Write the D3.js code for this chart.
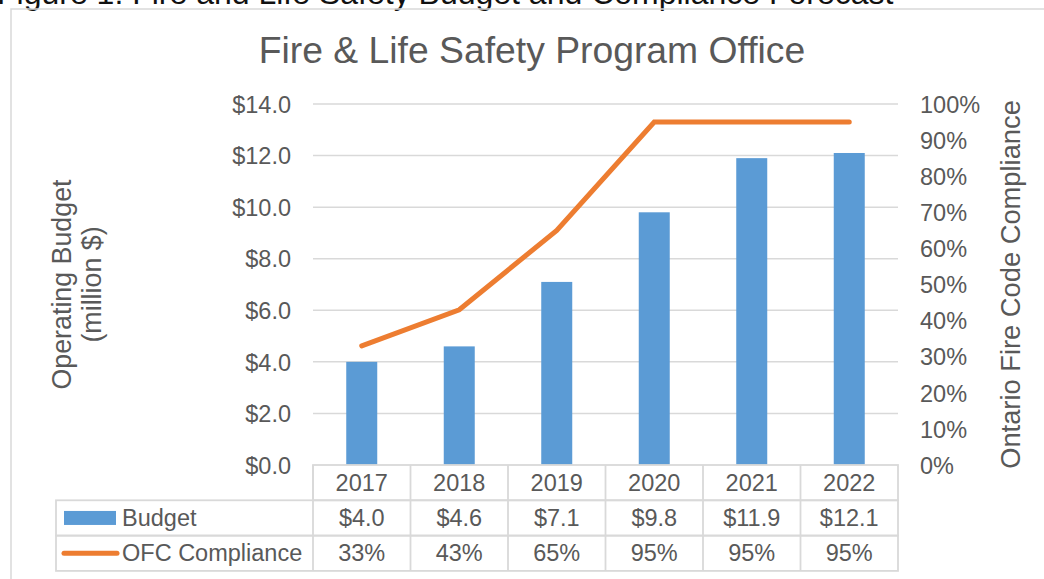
<!DOCTYPE html>
<html>
<head>
<meta charset="utf-8">
<script src="https://cdn.jsdelivr.net/npm/d3@7"></script>
<style>
  body { margin: 0; background: #fff; }
  svg { display: block; font-family: "Liberation Sans", Arial, sans-serif; }
</style>
</head>
<body>
<div id="chart"></div>
<script>
// data
const years = ["2017", "2018", "2019", "2020", "2021", "2022"];
const budget = [4.0, 4.6, 7.1, 9.8, 11.9, 12.1];
const compliance = [33, 43, 65, 95, 95, 95];
const budgetTicks = [0, 2, 4, 6, 8, 10, 12, 14];
const pctTicks = [0, 10, 20, 30, 40, 50, 60, 70, 80, 90, 100];

const W = 1044, H = 579;
const margin = { top: 104, right: 146, bottom: 114, left: 313 };
const textColor = "#595959";
const gridColor = "#d9d9d9";
const blue = "#5b9bd5";
const orange = "#ed7d31";

const svg = d3.select("#chart").append("svg")
  .attr("width", W)
  .attr("height", H);

// caption above the chart (cut off at top in the source)
svg.append("text")
  .attr("x", -3)
  .attr("y", 4)
  .attr("font-size", 32)
  .attr("fill", "#111")
  .text("Figure 1: Fire and Life Safety Budget and Compliance Forecast");

// chart area border
svg.append("rect")
  .attr("x", 11).attr("y", 9)
  .attr("width", W + 20).attr("height", H + 20)
  .attr("fill", "none")
  .attr("stroke", gridColor)
  .attr("stroke-width", 1.5);

const x = d3.scaleBand()
  .domain(years)
  .range([margin.left, W - margin.right]);
const y = d3.scaleLinear().domain([0, 14]).range([H - margin.bottom, margin.top]);
const y2 = d3.scaleLinear().domain([0, 100]).range([H - margin.bottom, margin.top]);

// title
svg.append("text")
  .attr("x", 532).attr("y", 63)
  .attr("text-anchor", "middle")
  .attr("font-size", 37.3)
  .attr("fill", textColor)
  .text("Fire & Life Safety Program Office");

// gridlines
svg.append("g")
  .selectAll("line")
  .data(budgetTicks.filter(d => d > 0))
  .join("line")
    .attr("x1", x.range()[0]).attr("x2", x.range()[1])
    .attr("y1", d => y(d)).attr("y2", d => y(d))
    .attr("stroke", gridColor)
    .attr("stroke-width", 1.5);

// left axis labels
const leftAxis = svg.append("g")
  .attr("transform", `translate(${margin.left - 22},0)`)
  .call(d3.axisLeft(y).tickValues(budgetTicks).tickFormat(d => "$" + d.toFixed(1)).tickSize(0).tickPadding(0));
leftAxis.select(".domain").remove();
leftAxis.selectAll("text")
  .attr("font-family", "Liberation Sans, Arial, sans-serif")
  .attr("font-size", 23.5)
  .attr("fill", textColor)
  .attr("dy", "0.35em");

// right axis labels
const rightAxis = svg.append("g")
  .attr("transform", `translate(${W - margin.right + 22},0)`)
  .call(d3.axisRight(y2).tickValues(pctTicks).tickFormat(d => d + "%").tickSize(0).tickPadding(0));
rightAxis.select(".domain").remove();
rightAxis.selectAll("text")
  .attr("font-family", "Liberation Sans, Arial, sans-serif")
  .attr("font-size", 23.5)
  .attr("fill", textColor)
  .attr("dy", "0.35em");

// axis titles
const midY = (margin.top + H - margin.bottom) / 2;
svg.append("text")
  .attr("transform", `translate(62,${midY}) rotate(-90)`)
  .attr("text-anchor", "middle")
  .attr("dy", "0.35em")
  .attr("font-size", 26.8)
  .attr("fill", textColor)
  .text("Operating Budget");
svg.append("text")
  .attr("transform", `translate(92,${midY}) rotate(-90)`)
  .attr("text-anchor", "middle")
  .attr("dy", "0.35em")
  .attr("font-size", 26.8)
  .attr("fill", textColor)
  .text("(million $)");
svg.append("text")
  .attr("transform", `translate(1010,${midY}) rotate(-90)`)
  .attr("text-anchor", "middle")
  .attr("dy", "0.35em")
  .attr("font-size", 27.3)
  .attr("fill", textColor)
  .text("Ontario Fire Code Compliance");

// bars
const barW = 31;
svg.append("g")
  .selectAll("rect")
  .data(years)
  .join("rect")
    .attr("x", (d) => x(d) + x.bandwidth() / 2 - barW / 2)
    .attr("y", (d, i) => y(budget[i]))
    .attr("width", barW)
    .attr("height", (d, i) => y(0) - y(budget[i]))
    .attr("fill", blue);

// compliance line
const line = d3.line()
  .x((d, i) => x(years[i]) + x.bandwidth() / 2)
  .y(d => y2(d));
svg.append("path")
  .datum(compliance)
  .attr("d", line)
  .attr("fill", "none")
  .attr("stroke", orange)
  .attr("stroke-width", 5)
  .attr("stroke-linecap", "round")
  .attr("stroke-linejoin", "miter");

// data table
const rowH = 35.3;
const tableTop = y(0);
const tableLeft = 56;
const tbl = svg.append("g");
const rows = [
  { label: null, values: years },
  { label: "Budget", values: budget.map(d => "$" + d.toFixed(1)) },
  { label: "OFC Compliance", values: compliance.map(d => d + "%") }
];

rows.forEach((row, r) => {
  const top = tableTop + r * rowH;
  const cy = top + rowH / 2;
  const left = row.label ? tableLeft : margin.left;
  tbl.append("rect")
    .attr("x", left).attr("y", top)
    .attr("width", x.range()[1] - left).attr("height", rowH)
    .attr("fill", "none")
    .attr("stroke", gridColor)
    .attr("stroke-width", 1.8);
  years.forEach((yr, i) => {
    tbl.append("line")
      .attr("x1", x(yr)).attr("x2", x(yr))
      .attr("y1", top).attr("y2", top + rowH)
      .attr("stroke", gridColor)
      .attr("stroke-width", 1.8);
    tbl.append("text")
      .attr("x", x(yr) + x.bandwidth() / 2)
      .attr("y", cy)
      .attr("dy", "0.35em")
      .attr("text-anchor", "middle")
      .attr("font-size", 23.5)
      .attr("fill", textColor)
      .text(row.values[i]);
  });
  if (row.label) {
    if (r === 1) {
      tbl.append("rect")
        .attr("x", 64).attr("y", cy - 7)
        .attr("width", 52).attr("height", 14)
        .attr("fill", blue);
    } else {
      tbl.append("line")
        .attr("x1", 64).attr("x2", 117)
        .attr("y1", cy).attr("y2", cy)
        .attr("stroke", orange)
        .attr("stroke-width", 5)
        .attr("stroke-linecap", "round");
    }
    tbl.append("text")
      .attr("x", 122)
      .attr("y", cy)
      .attr("dy", "0.35em")
      .attr("font-size", 23.5)
      .attr("fill", textColor)
      .text(row.label);
  }
});
</script>
</body>
</html>
